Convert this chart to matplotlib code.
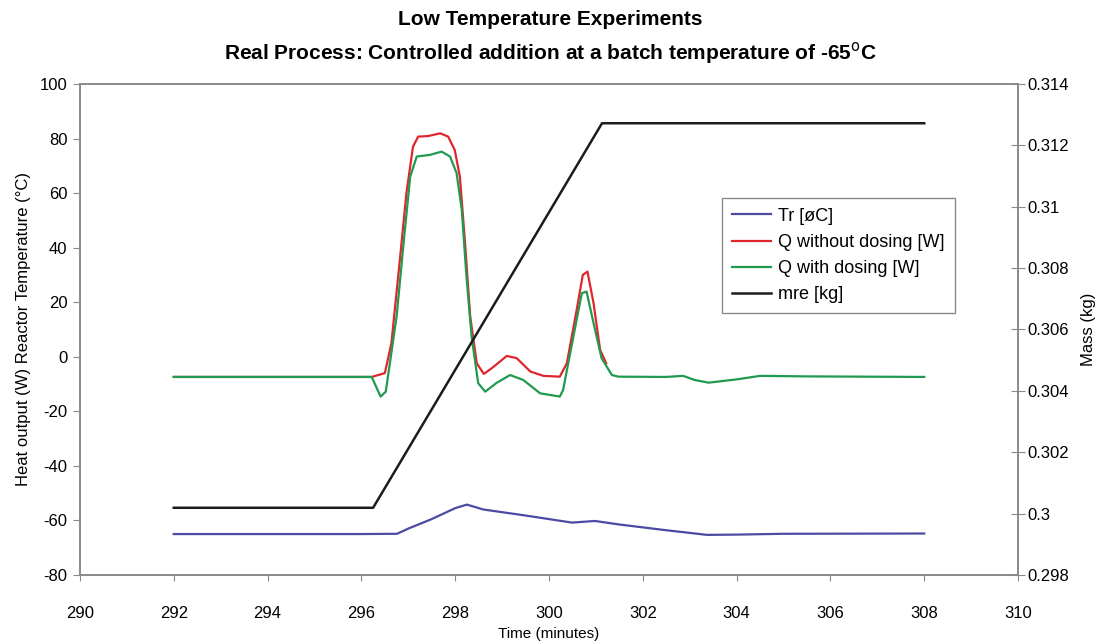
import matplotlib.pyplot as plt
import numpy as np

plt.rcParams['font.family'] = ['Liberation Sans', 'DejaVu Sans']
plt.rcParams['axes.unicode_minus'] = False

# Reactor temperature
t_tr = [292, 296.0, 296.76, 297.0, 297.5, 298.0, 298.25, 298.6, 299.5, 300.49, 300.98, 301.5, 302.5, 303.37, 304.0, 305.0, 308]
tr = [-65, -65, -64.9, -63.0, -59.5, -55.5, -54.2, -56.0, -58.2, -60.8, -60.2, -61.5, -63.6, -65.3, -65.2, -64.9, -64.8]

# Q without dosing
t_qr = [292, 296.22, 296.5, 296.64, 296.82, 296.96, 297.1, 297.21, 297.42, 297.68, 297.85, 297.99, 298.1,
        298.21, 298.32, 298.46, 298.61, 298.78, 299.1, 299.31, 299.6, 299.88, 300.23, 300.38, 300.59,
        300.72, 300.82, 300.95, 301.09, 301.22]
qr = [-7.4, -7.4, -6.0, 5.0, 35.5, 60.0, 77.0, 80.7, 80.9, 81.9, 80.7, 75.8, 66.0,
      41.7, 14.7, -2.4, -6.3, -4.2, 0.3, -0.5, -5.4, -7.0, -7.3, -2.4, 17.2,
      30.0, 31.2, 19.6, 2.5, -2.4]

# Q with dosing
t_qg = [292, 296.22, 296.41, 296.52, 296.75, 296.9, 297.04, 297.18, 297.46, 297.71, 297.89, 298.03, 298.14,
        298.24, 298.35, 298.49, 298.64, 298.88, 299.17, 299.45, 299.81, 300.23, 300.3, 300.52, 300.7,
        300.8, 300.95, 301.12, 301.23, 301.34, 301.48, 302.5, 302.86, 303.1, 303.4, 304.0, 304.5, 305.5, 308]
qg = [-7.4, -7.4, -14.6, -12.8, 14.7, 41.7, 66.0, 73.4, 74.0, 75.2, 73.4, 67.3, 53.8,
      29.4, 7.4, -9.7, -12.8, -9.6, -6.7, -8.5, -13.4, -14.6, -12.2, 7.4, 23.3,
      23.9, 12.3, -0.5, -3.6, -6.7, -7.3, -7.4, -7.0, -8.5, -9.5, -8.3, -7.0, -7.2, -7.4]

# Mass
t_m = [292, 296.25, 301.13, 308]
mre = [0.30019, 0.30019, 0.31272, 0.31272]

gray = '#8a8a8a'

fig = plt.figure(figsize=(11, 6.41), dpi=100)
ax = fig.add_axes([0.0727, 0.103, 0.8528, 0.766])
ax2 = ax.twinx()

l1, = ax.plot(t_tr, tr, color='#4b4ba3', lw=1.6, label='Tr [øC]')
l2, = ax.plot(t_qr, qr, color='#e0262c', lw=1.6, label='Q without dosing [W]')
l3, = ax.plot(t_qg, qg, color='#1f9a4f', lw=1.6, label='Q with dosing [W]')
l4, = ax2.plot(t_m, mre, color='#1c1c1c', lw=1.8, label='mre [kg]')

ax.set_xlim(290, 310)
ax.set_ylim(-80, 100)
ax.set_xticks(np.arange(290, 311, 2))
ax.set_yticks(np.arange(-80, 101, 20))
ax2.set_ylim(0.298, 0.314)
ax2.set_yticks(np.arange(0.298, 0.3141, 0.002))
ax2.set_yticklabels(['0.298', '0.3', '0.302', '0.304', '0.306', '0.308', '0.31', '0.312', '0.314'])

for a in (ax, ax2):
    for s in a.spines.values():
        s.set_color(gray)
        s.set_linewidth(1.2)

ax.tick_params(axis='y', direction='out', length=5, color=gray, labelsize=12, pad=4)
ax.tick_params(axis='x', direction='out', length=4, color=gray, labelsize=12, pad=18)
ax2.tick_params(axis='y', direction='inout', length=10, color=gray, labelsize=12, pad=2)

ax.set_ylabel('Heat output (W) Reactor Temperature (°C)', fontsize=12, labelpad=6)
ax.set_xlabel('Time (minutes)', fontsize=11, labelpad=5)
ax2.set_ylabel('Mass (kg)', fontsize=12, labelpad=8)

fig.text(0.5, 0.97, 'Low Temperature Experiments', ha='center', va='center',
         fontsize=15, fontweight='bold')
fig.text(0.5, 0.918, 'Real Process: Controlled addition at a batch temperature of -65$^{\\mathrm{o}}$C',
         ha='center', va='center', fontsize=15, fontweight='bold')

leg = ax2.legend(handles=[l1, l2, l3, l4], loc='upper left', bbox_to_anchor=(0.684, 0.768),
                 bbox_transform=ax.transAxes, borderaxespad=0, fancybox=False,
                 edgecolor=gray, handlelength=2.2, handletextpad=0.4,
                 labelspacing=0.5, borderpad=0.55, framealpha=1,
                 prop={'size': 13})
leg.get_frame().set_linewidth(1.0)

fig.savefig('out.png', dpi=100)
